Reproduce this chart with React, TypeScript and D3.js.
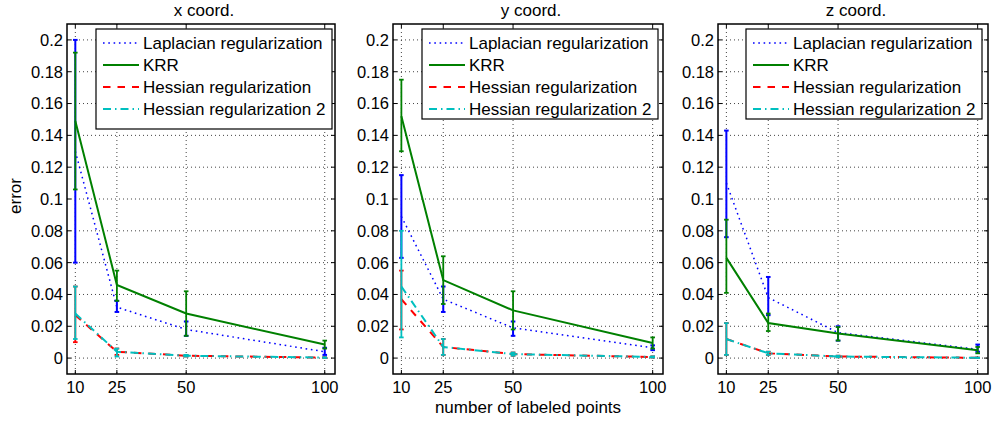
import React from "react";
import * as d3 from "d3";

const xs = [10, 25, 50, 100];
const xTicks = [10, 25, 50, 100];
const yTicks = [0, 0.02, 0.04, 0.06, 0.08, 0.1, 0.12, 0.14, 0.16, 0.18, 0.2];
const titles = ["x coord.", "y coord.", "z coord."];
const seriesNames = ["Laplacian regularization", "KRR", "Hessian regularization", "Hessian regularization 2"];

// x coord.
const lapX = [0.13, 0.032, 0.018, 0.004];
const lapXLo = [0.06, 0.029, 0.014, 0.002];
const lapXHi = [0.2, 0.036, 0.023, 0.0065];
const krrX = [0.149, 0.046, 0.028, 0.0085];
const krrXLo = [0.106, 0.036, 0.014, 0.006];
const krrXHi = [0.192, 0.055, 0.042, 0.011];
const hesX = [0.027, 0.004, 0.0015, 0.0003];
const hesXLo = [0.01, 0.002, 0.001, 0.0001];
const hesXHi = [0.045, 0.006, 0.002, 0.0005];
const hes2X = [0.028, 0.004, 0.0015, 0.0003];
const hes2XLo = [0.012, 0.001, 0.001, 0.0001];
const hes2XHi = [0.045, 0.006, 0.002, 0.0005];

// y coord.
const lapY = [0.089, 0.037, 0.019, 0.0065];
const lapYLo = [0.063, 0.029, 0.014, 0.005];
const lapYHi = [0.115, 0.045, 0.023, 0.008];
const krrY = [0.152, 0.049, 0.03, 0.0095];
const krrYLo = [0.13, 0.034, 0.018, 0.006];
const krrYHi = [0.175, 0.064, 0.042, 0.013];
const hesY = [0.037, 0.007, 0.0025, 0.0007];
const hesYLo = [0.018, 0.002, 0.0015, 0.0003];
const hesYHi = [0.055, 0.012, 0.0035, 0.0011];
const hes2Y = [0.045, 0.007, 0.0025, 0.0007];
const hes2YLo = [0.013, 0.002, 0.0015, 0.0003];
const hes2YHi = [0.08, 0.012, 0.0035, 0.0011];

// z coord.
const lapZ = [0.11, 0.038, 0.016, 0.0055];
const lapZLo = [0.076, 0.027, 0.011, 0.004];
const lapZHi = [0.143, 0.051, 0.02, 0.0085];
const krrZ = [0.063, 0.022, 0.0155, 0.005];
const krrZLo = [0.041, 0.017, 0.011, 0.003];
const krrZHi = [0.087, 0.028, 0.0195, 0.007];
const hesZ = [0.012, 0.003, 0.001, 0.0002];
const hesZLo = [0.002, 0.002, 0.0005, 0.0001];
const hesZHi = [0.022, 0.004, 0.0015, 0.0003];
const hes2Z = [0.012, 0.003, 0.001, 0.0002];
const hes2ZLo = [0.002, 0.002, 0.0005, 0.0001];
const hes2ZHi = [0.022, 0.004, 0.0015, 0.0003];

const panelData = [
  [
    [lapX, lapXLo, lapXHi],
    [krrX, krrXLo, krrXHi],
    [hesX, hesXLo, hesXHi],
    [hes2X, hes2XLo, hes2XHi],
  ],
  [
    [lapY, lapYLo, lapYHi],
    [krrY, krrYLo, krrYHi],
    [hesY, hesYLo, hesYHi],
    [hes2Y, hes2YLo, hes2YHi],
  ],
  [
    [lapZ, lapZLo, lapZHi],
    [krrZ, krrZLo, krrZHi],
    [hesZ, hesZLo, hesZHi],
    [hes2Z, hes2ZLo, hes2ZHi],
  ],
];

const styles = [
  { color: "#0000ff", dash: "1.6,3.7", width: 1.5, barWidth: 2 },
  { color: "#008000", dash: "", width: 2, barWidth: 1.8 },
  { color: "#ff0000", dash: "7.5,7", width: 2, barWidth: 1.8 },
  { color: "#00bfbf", dash: "8,4,1.5,4", width: 2, barWidth: 1.8 },
];

const panels = [
  { left: 67, right: 335, legLeft: 96, legRight: 332, legBottom: 129 },
  { left: 393, right: 663, legLeft: 422, legRight: 658, legBottom: 119 },
  { left: 718, right: 988, legLeft: 746, legRight: 982, legBottom: 119 },
];

const TOP = 24;
const BOTTOM = 374;
const FONT = "'Liberation Sans', Arial, Helvetica, sans-serif";

function fmt(v: number) {
  return String(+v.toFixed(2));
}

function Panel({ idx }: { idx: number }) {
  const p = panels[idx];
  const x = d3.scaleLinear().domain([7, 103.7]).range([p.left, p.right]);
  const y = d3.scaleLinear().domain([-0.01, 0.21]).range([BOTTOM, TOP]);
  const line = d3
    .line<number>()
    .x((_, i) => x(xs[i]))
    .y((d) => y(d));
  const data = panelData[idx];
  const tickLen = 4;
  return (
    <g>
      {/* grid */}
      {yTicks.map((t) => (
        <line key={"gy" + t} x1={p.left} x2={p.right} y1={y(t)} y2={y(t)} stroke="#444" strokeWidth={1} strokeDasharray="1,3" />
      ))}
      {xTicks.map((t) => (
        <line key={"gx" + t} x1={x(t)} x2={x(t)} y1={TOP} y2={BOTTOM} stroke="#444" strokeWidth={1} strokeDasharray="1,3" />
      ))}
      {/* ticks */}
      {yTicks.map((t) => (
        <g key={"ty" + t}>
          <line x1={p.left} x2={p.left + tickLen} y1={y(t)} y2={y(t)} stroke="#000" />
          <line x1={p.right} x2={p.right - tickLen} y1={y(t)} y2={y(t)} stroke="#000" />
          <text x={p.left - 4} y={y(t)} dy="0.36em" textAnchor="end" fontSize={16.5} fontFamily={FONT} fill="#000">
            {fmt(t)}
          </text>
        </g>
      ))}
      {xTicks.map((t) => (
        <g key={"tx" + t}>
          <line x1={x(t)} x2={x(t)} y1={BOTTOM} y2={BOTTOM - tickLen} stroke="#000" />
          <line x1={x(t)} x2={x(t)} y1={TOP} y2={TOP + tickLen} stroke="#000" />
          <text x={x(t)} y={393} textAnchor="middle" fontSize={16.5} fontFamily={FONT} fill="#000">
            {t}
          </text>
        </g>
      ))}
      {/* series */}
      {data.map(([m, lo, hi], si) => {
        const s = styles[si];
        return (
          <g key={"s" + si}>
            <path d={line(m) || ""} fill="none" stroke={s.color} strokeWidth={s.width} strokeDasharray={s.dash || undefined} />
            {xs.map((xv, i) => (
              <g key={i} stroke={s.color} strokeWidth={s.barWidth}>
                <line x1={x(xv)} x2={x(xv)} y1={y(lo[i])} y2={y(hi[i])} />
                <line x1={x(xv) - 2.3} x2={x(xv) + 2.3} y1={y(lo[i])} y2={y(lo[i])} />
                <line x1={x(xv) - 2.3} x2={x(xv) + 2.3} y1={y(hi[i])} y2={y(hi[i])} />
              </g>
            ))}
          </g>
        );
      })}
      {/* box */}
      <rect x={p.left} y={TOP} width={p.right - p.left} height={BOTTOM - TOP} fill="none" stroke="#000" strokeWidth={1.5} />
      {/* title */}
      <text x={(p.left + p.right) / 2 + 3} y={16} textAnchor="middle" fontSize={17} fontFamily={FONT} fill="#000">
        {titles[idx]}
      </text>
      {/* legend */}
      <rect x={p.legLeft} y={29} width={p.legRight - p.legLeft} height={p.legBottom - 29} fill="#fff" stroke="#000" strokeWidth={1.2} />
      {seriesNames.map((n, i) => {
        const ry = 43 + i * 22;
        const s = styles[i];
        return (
          <g key={"l" + i}>
            <line x1={p.legLeft + 7} x2={p.legLeft + 43} y1={ry} y2={ry} stroke={s.color} strokeWidth={s.width} strokeDasharray={s.dash || undefined} />
            <text x={p.legLeft + 47} y={ry + 6} fontSize={17} fontFamily={FONT} fill="#000">
              {n}
            </text>
          </g>
        );
      })}
    </g>
  );
}

export default function App() {
  return (
    <svg width={995} height={426} style={{ position: "absolute", left: 0, top: 0, background: "#fff" }}>
      <rect width={995} height={426} fill="#fff" />
      {[0, 1, 2].map((i) => (
        <Panel key={i} idx={i} />
      ))}
      <text x={528} y={413} textAnchor="middle" fontSize={17} fontFamily={FONT} fill="#000">
        number of labeled points
      </text>
      <text transform="translate(21,196) rotate(-90)" textAnchor="middle" fontSize={17} fontFamily={FONT} fill="#000">
        error
      </text>
    </svg>
  );
}
